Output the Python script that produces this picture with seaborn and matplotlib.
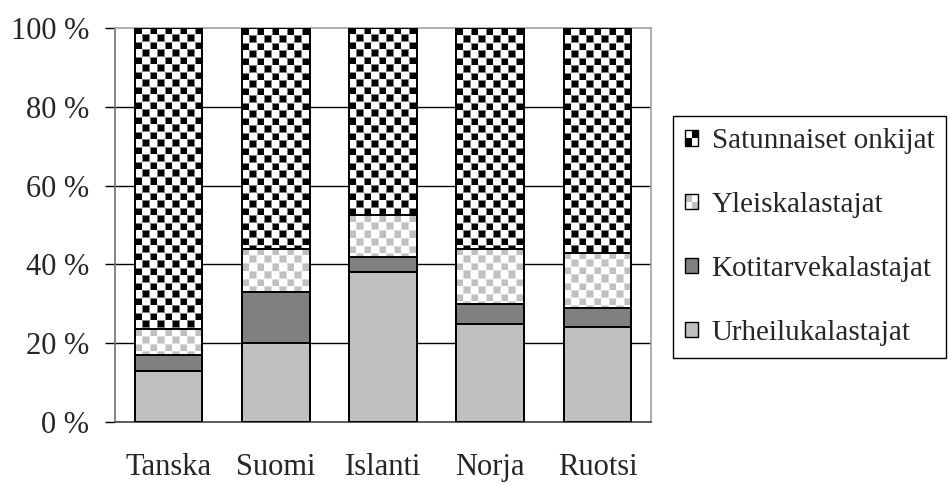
import numpy as np
import seaborn as sns
import matplotlib.pyplot as plt
from matplotlib.colors import to_rgb
from matplotlib.patches import Patch, Rectangle
from matplotlib.legend_handler import HandlerBase

# data (osuudet %, luettu kuvasta)
maat = ["Tanska", "Suomi", "Islanti", "Norja", "Ruotsi"]
urheilu = [13, 20, 38, 25, 24]
koti = [4, 13, 4, 5, 5]
yleis = [6.5, 11, 10.5, 14, 14]
satunnaiset = [76.5, 56, 47.5, 56, 57]
sarjat = ["Satunnaiset onkijat", "Yleiskalastajat", "Kotitarvekalastajat", "Urheilukalastajat"]
yticks = [0, 20, 40, 60, 80, 100]
ytick_labels = ["0 %", "20 %", "40 %", "60 %", "80 %", "100 %"]

sns.set_style("white")
plt.rcParams["font.family"] = ["Liberation Serif", "DejaVu Serif"]

fig = plt.figure(figsize=(9.49, 4.84), dpi=100)
ax = fig.add_axes([115 / 949, 62 / 484, 536 / 949, 394 / 484])
px_x = 536 / 5      # pikselia / kategoria
px_y = 394 / 100    # pikselia / prosentti

u = np.array(urheilu)
k_top = u + np.array(koti)
y_top = k_top + np.array(yleis)
s_top = y_top + np.array(satunnaiset)

# kerrokset paallekkain, korkein ensin
kerrokset = [(s_top, "none"), (y_top, "none"), (k_top, "#808080"), (u, "#c0c0c0")]
for top, col in kerrokset:
    sns.barplot(x=maat, y=top, ax=ax, width=0.63, saturation=1,
                color="white" if col == "none" else col,
                edgecolor="black", linewidth=1.4, zorder=3)
    if col == "none":
        for p in ax.containers[-1]:
            p.set_facecolor("none")


# shakkiruutukuvio pikselitasolla
def ruudukko(c_tumma, c_vaalea, c_reuna, w, h, koko=7.5):
    nx = max(1, int(round(w * px_x)))
    ny = max(1, int(round(h * px_y)))
    yy, xx = np.indices((ny, nx)) + 0.5
    cx, cy = xx / koko, yy / koko
    tumma = ((np.floor(cx) + np.floor(cy)) % 2 == 0)
    fx, fy = cx % 1, cy % 1
    reuna = tumma & ((fx < 0.1) | (fx > 0.9) | (fy < 0.1) | (fy > 0.9))
    img = np.empty((ny, nx, 3))
    img[:] = to_rgb(c_vaalea)
    img[tumma] = to_rgb(c_tumma)
    img[reuna] = to_rgb(c_reuna)
    return img


for i, p in enumerate(ax.containers[0]):
    x0, w = p.get_x(), p.get_width()
    img = ruudukko("black", "white", "#808080", w, s_top[i] - y_top[i])
    ax.imshow(img, extent=(x0, x0 + w, y_top[i], s_top[i]), aspect="auto",
              interpolation="nearest", zorder=2.5)
    img = ruudukko("#c0c0c0", "white", "#dcdcdc", w, y_top[i] - k_top[i])
    ax.imshow(img, extent=(x0, x0 + w, k_top[i], y_top[i]), aspect="auto",
              interpolation="nearest", zorder=2.5)

ax.set_xlim(-0.5, len(maat) - 0.5)
ax.set_ylim(0, 100)
ax.set_yticks(yticks)
ax.set_yticklabels(ytick_labels)
ax.set_xlabel("")
ax.set_ylabel("")
for yv in yticks[1:-1]:
    ax.axhline(yv, color="black", lw=1, zorder=1)

ax.set_xticks(np.arange(len(maat)))
ax.set_xticks(np.arange(len(maat) + 1) - 0.5, minor=True)
ax.tick_params(axis="x", which="major", length=0, pad=22, labelsize=22)
ax.tick_params(axis="x", which="minor", length=9, width=1, color="#404040", direction="out")
ax.tick_params(axis="y", length=7.5, width=1, color="black", direction="out", pad=11, labelsize=22, left=True)
ax.spines["left"].set_color("#707070")
ax.spines["bottom"].set_color("#404040")
ax.spines["top"].set_color("#a0a0a0")
ax.spines["right"].set_color("#a0a0a0")
for s in ax.spines.values():
    s.set_linewidth(1.2)


class Ruutu(HandlerBase):
    def __init__(self, c1, c2):
        super().__init__()
        self.c1, self.c2 = c1, c2

    def create_artists(self, legend, orig_handle, xdescent, ydescent, width, height, fontsize, trans):
        arts = []
        for a in range(2):
            for b in range(2):
                col = self.c1 if (a + b) % 2 == 0 else self.c2
                arts.append(Rectangle((-xdescent + a * width / 2, -ydescent + b * height / 2),
                                      width / 2, height / 2, facecolor=col, edgecolor="none", transform=trans))
        arts.append(Rectangle((-xdescent, -ydescent), width, height, facecolor="none",
                              edgecolor="black", lw=1, transform=trans))
        return arts


h_sat = Patch(facecolor="white", edgecolor="black")
h_yl = Patch(facecolor="white", edgecolor="black")
h_ko = Patch(facecolor="#808080", edgecolor="black", lw=1)
h_ur = Patch(facecolor="#c0c0c0", edgecolor="black", lw=1)
leg = fig.legend([h_sat, h_yl, h_ko, h_ur], sarjat,
                 handler_map={h_sat: Ruutu("black", "white"), h_yl: Ruutu("white", "#c0c0c0")},
                 loc="center left", bbox_to_anchor=(673 / 949, 1 - 237 / 484),
                 borderaxespad=0, fontsize=21, handlelength=0.45, handleheight=0.45,
                 handletextpad=0.45, labelspacing=1.3, borderpad=0.42,
                 frameon=True, fancybox=False, framealpha=1, edgecolor="black")
leg.get_frame().set_linewidth(1)

fig.savefig("out.png", dpi=100)
